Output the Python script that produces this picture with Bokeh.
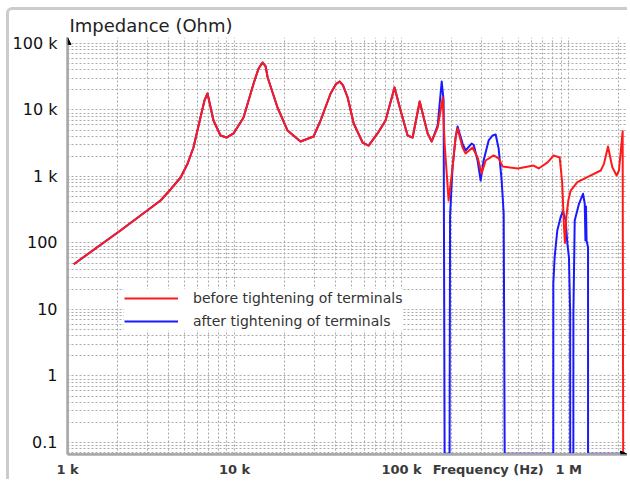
from bokeh.plotting import figure
from bokeh.models import (FixedTicker, CustomJSTickFormatter, Legend, LegendItem,
                          Arrow, NormalHead, Range1d)
from bokeh.embed import file_html
from bokeh.resources import INLINE

# ---------------- data (Hz, Ohm) ----------------
FLOOR = 0.068  # values below the display range are drawn on the bottom axis

# low-frequency section where both measurements coincide
common_freq = [1090, 2075, 3606, 4140, 4753, 5240, 5676, 6250, 6607, 6887, 7480, 8240, 8950, 9860,
               11320, 13000, 13930, 14720, 15350, 15780, 18080, 20740, 24830, 29720, 32730, 37570,
               40500, 42560, 44600, 47540, 51660, 58400, 63440, 71800, 80130, 90700, 98600,
               108600, 116400, 128300, 143200, 151400]
common_imp = [48, 154, 436, 638, 966, 1570, 2730, 7710, 13900, 17700, 6950, 4140, 3850, 4440,
              7710, 25000, 42100, 51800, 45100, 30800, 10900, 4920, 3360, 4000, 6950, 17700,
              24500, 26800, 23500, 15400, 6270, 3240, 2920, 4440, 6950, 21800, 9820,
              4140, 3850, 13400, 4440, 3360]

before_freq_hi = [164400, 176300, 180900, 191100, 201800, 210400, 216300, 231700, 241600, 266000,
                  285000, 301300, 318400, 355600, 380900, 402600, 495500, 617200, 661200, 748000,
                  812700, 883400, 915000, 937000, 950000, 968000, 995000, 1028000, 1127000,
                  1294000, 1556000, 1627000, 1720000, 1825000, 1937000, 2000000, 2105000, 2120000]
before_imp_hi = [5460, 15400, 3130, 436, 1365, 3850, 5270, 2730, 2220, 2730,
                 1930, 1110, 1740, 2070, 1870, 1410, 1320, 1460, 1320, 1630,
                 2070, 1930, 800, 180, 100, 244, 434, 615, 820,
                 975, 1230, 1550, 2830, 1380, 1035, 1230, 4800, FLOOR]

after_freq_hi = [164400, 173800, 178400, 180900, 193700, 195000, 201800, 210400, 216300, 231700,
                 241600, 262300, 270000, 285000, 297300, 309700, 331900, 350800, 365600, 380900,
                 397100, 408400, 414000, 809000, 809500, 824000, 855000, 895000, 924000, 960000,
                 982000, 1004000, 1021000, 1021500, 1067000, 1067500, 1087000, 1153000, 1219000,
                 1248000, 1260000, 1270000, 1280000, 1306000, 1306500, 2110000]
after_imp_hi = [5850, 26800, 13900, FLOOR, FLOOR, 260, 1365, 3850, 5650, 3130,
                2460, 3130, 3000, 1740, 871, 1740, 3480, 4140, 4290, 2640,
                871, 278, FLOOR, FLOOR, 24.4, 61, 154, 244, 301, 218,
                98, 61, 8.7, FLOOR, FLOOR, 8.7, 218, 388, 550,
                393, 109, 354, 109, 86, FLOOR, FLOOR]

x_ticks = [1e3, 1e4, 1e5, 1e6]
x_labels = ["1 k", "10 k", "100 k", "1 M"]
y_ticks = [0.1, 1, 10, 100, 1e3, 1e4, 1e5]
y_labels = ["0.1", "1", "10", "100", "1 k", "10 k", "100 k"]
x_title = "Frequency (Hz)"
x_title_at = 3.3e5   # the axis title sits in the tick-label row, between 100 k and 1 M
y_title = "Impedance (Ohm)"

series_labels = ["before tightening of terminals", "after tightening of terminals"]
series_colors = ["#ff1a1a", "#1a1aff"]

before_freq = common_freq + before_freq_hi
before_imp = common_imp + before_imp_hi
after_freq = common_freq + after_freq_hi
after_imp = common_imp + after_imp_hi

# ---------------- figure ----------------
FONT = "DejaVu Sans"
x_lo, x_hi = 1000, 2.25e6
y_lo, y_hi = 0.066, 1.23e5

p = figure(width=621, height=472, x_axis_type="log", y_axis_type="log",
           x_range=Range1d(x_lo, x_hi), y_range=Range1d(y_lo, y_hi),
           output_backend="svg", toolbar_location=None,
           min_border_left=58, min_border_right=3, min_border_top=27, min_border_bottom=28,
           title=y_title)
p.margin = (7, 0, 0, 6)
p.styles = {"border-left": "3px solid #cccccc", "border-top": "3px solid #cccccc",
            "border-top-left-radius": "6px"}
p.outline_line_color = None
p.background_fill_color = "white"
p.border_fill_color = "white"

p.title.text_font = FONT
p.title.text_font_size = "18px"
p.title.text_font_style = "normal"
p.title.text_color = "#222222"
p.title.offset = 2
p.title.standoff = 4

def decade_minors(ticks):
    out = []
    for t in ticks:
        out += [m * t for m in range(2, 10)]
    return out

x_minor = decade_minors([1e3, 1e4, 1e5, 1e6])
y_minor = decade_minors([0.01, 0.1, 1, 10, 100, 1e3, 1e4, 1e5])

x_label_ticks = x_ticks + [x_title_at]
x_label_texts = x_labels + [x_title]
p.xaxis.ticker = FixedTicker(ticks=sorted(x_label_ticks))
p.yaxis.ticker = FixedTicker(ticks=y_ticks, minor_ticks=y_minor)
p.xgrid.ticker = FixedTicker(ticks=x_ticks, minor_ticks=x_minor)

fmt_code = """
for (let i = 0; i < vals.length; i++) {
  if (Math.abs(Math.log10(tick / vals[i])) < 1e-6) return labs[i];
}
return '';
"""
p.xaxis.formatter = CustomJSTickFormatter(args=dict(vals=x_label_ticks, labs=x_label_texts), code=fmt_code)
p.yaxis.formatter = CustomJSTickFormatter(args=dict(vals=y_ticks, labs=y_labels), code=fmt_code)

for ax in (p.xaxis[0], p.yaxis[0]):
    ax.axis_line_color = "#a8a8a8"
    ax.axis_line_width = 2.5
    ax.major_tick_in = 0
    ax.major_tick_out = 0
    ax.minor_tick_in = 0
    ax.minor_tick_out = 0
    ax.major_label_text_font = FONT

p.yaxis.major_label_text_font_size = "16px"
p.yaxis.major_label_text_color = "#111111"
p.yaxis.major_label_standoff = 10
p.xaxis.major_label_text_font_size = "13px"
p.xaxis.major_label_text_font_style = "bold"
p.xaxis.major_label_text_color = "#3a3a3a"
p.xaxis.major_label_standoff = 7

for g in (p.xgrid[0], p.ygrid[0]):
    g.grid_line_color = "#a9a9a9"
    g.grid_line_dash = "2 2"
    g.grid_line_width = 1
    g.minor_grid_line_color = "#a9a9a9"
    g.minor_grid_line_dash = "2 2"
    g.minor_grid_line_width = 1

r_after = p.line(after_freq, after_imp, line_color=series_colors[1], line_width=2, line_join="round")
r_before = p.line(before_freq, before_imp, line_color=series_colors[0], line_width=2, line_join="round")

legend = Legend(items=[LegendItem(label=series_labels[0], renderers=[r_before]),
                       LegendItem(label=series_labels[1], renderers=[r_after])],
                location=(57, 124), orientation="vertical",
                label_text_font=FONT, label_text_font_size="14px", label_text_color="#333333",
                glyph_width=54, glyph_height=18, label_height=18, label_standoff=15,
                spacing=5, padding=4, margin=0,
                background_fill_color="white", background_fill_alpha=1.0,
                border_line_color=None)
p.add_layout(legend)

# axis arrowheads
p.add_layout(Arrow(end=NormalHead(size=7, fill_color="black", line_color="black"),
                   x_start=x_lo, y_start=y_lo, x_end=x_lo, y_end=y_hi,
                   line_color="#a8a8a8", line_width=2.5))
p.add_layout(Arrow(end=NormalHead(size=7, fill_color="black", line_color="black"),
                   x_start=x_lo, y_start=y_lo, x_end=x_hi, y_end=y_lo,
                   line_color="#a8a8a8", line_width=2.5))

open("out.html", "w").write(file_html(p, INLINE))
